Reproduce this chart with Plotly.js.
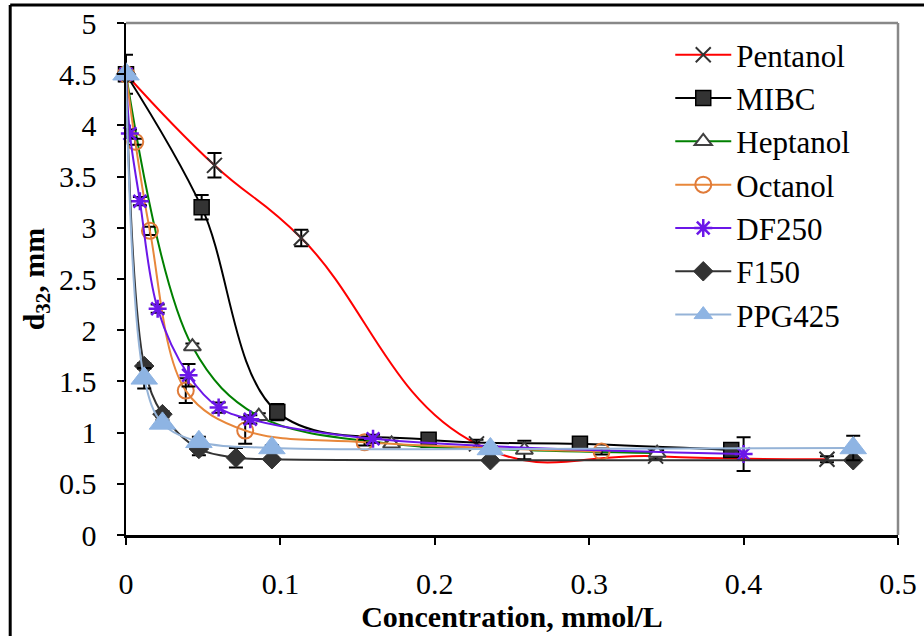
<!DOCTYPE html>
<html>
<head>
<meta charset="utf-8">
<script src="https://cdn.plot.ly/plotly-3.0.1.min.js"></script>
<style>
  html, body { margin: 0; padding: 0; background: #fff; }
  #chart { width: 924px; height: 636px; }
</style>
</head>
<body>
<div id="chart"></div>
<script>
// Sauter mean bubble diameter vs frother concentration
const pentanolX = [0, 0.0573, 0.1135, 0.227, 0.343, 0.454];
const pentanolY = [4.5, 3.61, 2.9, 0.89, 0.77, 0.74];
const pentanolErr = [0, 0.12, 0.08, 0.04, 0.03, 0.03];

const mibcX = [0, 0.049, 0.098, 0.196, 0.294, 0.392];
const mibcY = [4.5, 3.2, 1.2, 0.93, 0.89, 0.83];
const mibcErr = [0.19, 0.12, 0.08, 0.04, 0.04, 0.04];

const heptanolX = [0, 0.043, 0.086, 0.172, 0.258, 0.344];
const heptanolY = [4.5, 1.84, 1.16, 0.89, 0.83, 0.80];
const heptanolErr = [0, 0.03, 0.03, 0.03, 0.09, 0.03];

const octanolX = [0, 0.006, 0.0155, 0.0387, 0.0772, 0.1545, 0.308];
const octanolY = [4.5, 3.84, 2.97, 1.41, 1.02, 0.905, 0.815];
const octanolErr = [0, 0.03, 0.04, 0.12, 0.13, 0.03, 0.03];

const df250X = [0, 0.0025, 0.009, 0.0205, 0.0405, 0.060, 0.0805, 0.160, 0.400];
const df250Y = [4.5, 3.92, 3.26, 2.21, 1.56, 1.245, 1.13, 0.94, 0.79];
const df250Err = [0, 0.04, 0.04, 0.04, 0.11, 0.05, 0.04, 0.04, 0.165];

const f150X = [0, 0.0118, 0.0236, 0.0472, 0.0712, 0.0945, 0.236, 0.471];
const f150Y = [4.5, 1.65, 1.18, 0.84, 0.755, 0.74, 0.73, 0.73];
const f150Err = [0, 0.03, 0.03, 0.06, 0.095, 0.02, 0.02, 0.02];

const ppgX = [0, 0.0118, 0.0236, 0.0472, 0.0945, 0.236, 0.471];
const ppgY = [4.5, 1.53, 1.09, 0.91, 0.85, 0.84, 0.85];
const ppgErr = [0, 0.1, 0.03, 0.05, 0.03, 0.03, 0.12];

const xTicks = [0, 0.1, 0.2, 0.3, 0.4, 0.5];
const yTicks = [0, 0.5, 1, 1.5, 2, 2.5, 3, 3.5, 4, 4.5, 5];

const FONT = '"Liberation Serif", "Times New Roman", serif';

function series(name, x, y, err, lineColor, marker, smoothing) {
  return {
    type: 'scatter', mode: 'lines+markers', name: name,
    x: x, y: y,
    line: { color: lineColor, width: 2, shape: 'spline', smoothing: smoothing || 1 },
    marker: marker,
    error_y: { type: 'data', array: err, visible: true, color: '#000', thickness: 2, width: 7 },
    cliponaxis: false
  };
}

const traces = [
  series('Pentanol', pentanolX, pentanolY, pentanolErr, '#ff0000',
    { symbol: 'x-thin-open', size: 15, color: '#333', line: { color: '#333', width: 2 } }, 1.3),
  series('MIBC', mibcX, mibcY, mibcErr, '#000000',
    { symbol: 'square', size: 15, color: '#333', line: { color: '#000', width: 1.5 } }),
  series('Heptanol', heptanolX, heptanolY, heptanolErr, '#008000',
    { symbol: 'triangle-up', size: 15, color: '#fff', line: { color: '#404040', width: 2 } }),
  series('Octanol', octanolX, octanolY, octanolErr, '#e8873a',
    { symbol: 'circle-open', size: 16, color: '#e07b39', line: { color: '#e07b39', width: 2 } }),
  series('DF250', df250X, df250Y, df250Err, '#6b17e8',
    { symbol: 'asterisk-open', size: 15, color: '#6b17e8', line: { color: '#6b17e8', width: 2.5 } }),
  series('F150', f150X, f150Y, f150Err, '#333333',
    { symbol: 'diamond', size: 15, color: '#333', line: { color: '#333', width: 1 } }),
  series('PPG425', ppgX, ppgY, ppgErr, '#95b3d7',
    { symbol: 'triangle-up', size: 23, color: '#8eb4e3', line: { color: '#8eb4e3', width: 1 } })
];

const layout = {
  width: 924, height: 636,
  margin: { l: 125.5, r: 26, t: 23, b: 101, pad: 0 },
  paper_bgcolor: '#fff', plot_bgcolor: '#fff',
  font: { family: FONT, size: 30, color: '#000' },
  showlegend: true,
  legend: {
    x: 0.705, xanchor: 'left', y: 0.99, yanchor: 'top',
    bgcolor: 'rgba(0,0,0,0)', borderwidth: 0,
    font: { family: FONT, size: 31, color: '#000' },
    itemwidth: 56, tracegroupgap: 0
  },
  xaxis: {
    range: [0, 0.5], tickvals: xTicks, ticktext: xTicks.map(String),
    showgrid: false, zeroline: false,
    showline: true, linecolor: '#000', linewidth: 2.5,
    ticks: 'outside', ticklen: 7, tickwidth: 2, tickcolor: '#000',
    ticklabelstandoff: 13,
    tickfont: { family: FONT, size: 30 },
    title: { text: '<b>Concentration, mmol/L</b>', font: { family: FONT, size: 30 }, standoff: 1 },
    automargin: false
  },
  yaxis: {
    range: [0, 5], tickvals: yTicks, ticktext: yTicks.map(String),
    showgrid: false, zeroline: false,
    showline: true, linecolor: '#000', linewidth: 2.5,
    ticks: 'outside', ticklen: 7, tickwidth: 2, tickcolor: '#000',
    ticklabelstandoff: 14,
    tickfont: { family: FONT, size: 30 },
    title: { text: '<b>d<sub>32</sub>, mm</b>', font: { family: FONT, size: 30 }, standoff: 6 },
    automargin: false
  },
  shapes: [
    // plot area outline (top and right)
    { type: 'line', xref: 'paper', yref: 'paper', x0: 0, x1: 1, y0: 1, y1: 1, line: { color: '#888', width: 2.5 } },
    { type: 'line', xref: 'paper', yref: 'paper', x0: 1, x1: 1, y0: 0, y1: 1, line: { color: '#888', width: 2.5 } },
    // outer chart frame
    { type: 'line', xref: 'paper', yref: 'paper', x0: -0.150, x1: 1.2, y0: 1.035, y1: 1.035, line: { color: '#000', width: 3 } },
    { type: 'line', xref: 'paper', yref: 'paper', x0: -0.150, x1: -0.150, y0: -0.3, y1: 1.035, line: { color: '#000', width: 3 } }
  ]
};

Plotly.newPlot('chart', traces, layout, { staticPlot: true, displayModeBar: false });
</script>
</body>
</html>
